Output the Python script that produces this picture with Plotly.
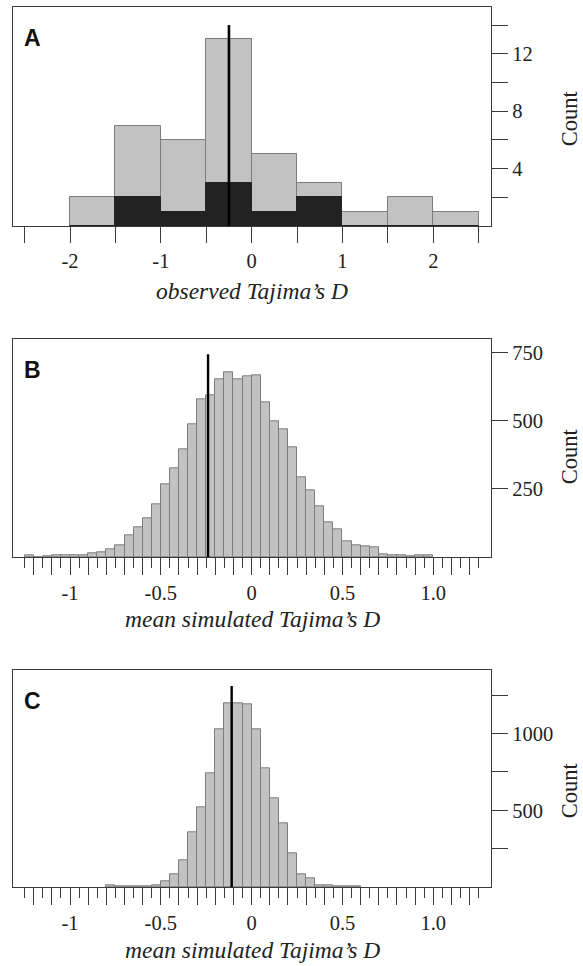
import numpy as np
import plotly.graph_objects as go

# ---------------- data ----------------
# Panel A: observed Tajima's D histogram (bin width 0.5)
A_bin_left = [-2.0, -1.5, -1.0, -0.5, 0.0, 0.5, 1.0, 1.5, 2.0]
A_total = [2, 7, 6, 13, 5, 3, 1, 2, 1]
A_dark = [0, 2, 1, 3, 1, 2, 0, 0, 0]
A_mean = -0.25
A_mean_top = 14
A_width = 0.5

# Panel B: mean simulated Tajima's D (bin width 0.05)
B_bin_left = [-1.25, -1.20, -1.15, -1.10, -1.05, -1.00, -0.95, -0.90, -0.85, -0.80,
              -0.75, -0.70, -0.65, -0.60, -0.55, -0.50, -0.45, -0.40, -0.35, -0.30,
              -0.25, -0.20, -0.15, -0.10, -0.05, 0.00, 0.05, 0.10, 0.15, 0.20,
              0.25, 0.30, 0.35, 0.40, 0.45, 0.50, 0.55, 0.60, 0.65, 0.70,
              0.75, 0.80, 0.85, 0.90, 0.95]
B_counts = [6, 0, 4, 5, 5, 6, 8, 12, 17, 27,
            43, 78, 110, 143, 192, 269, 327, 395, 486, 579,
            596, 653, 679, 653, 664, 667, 570, 497, 470, 403,
            293, 244, 187, 126, 100, 59, 43, 40, 34, 10,
            7, 6, 4, 5, 7]
B_mean = -0.24
B_mean_top = 745
B_width = 0.05

# Panel C: mean simulated Tajima's D (bin width 0.05)
C_bin_left = [-0.80, -0.75, -0.70, -0.65, -0.60, -0.55, -0.50, -0.45, -0.40, -0.35,
              -0.30, -0.25, -0.20, -0.15, -0.10, -0.05, 0.00, 0.05, 0.10, 0.15,
              0.20, 0.25, 0.30, 0.35, 0.40, 0.45, 0.50, 0.55]
C_counts = [8, 3, 7, 6, 6, 13, 39, 85, 174, 354,
            517, 743, 1026, 1199, 1195, 1191, 1026, 771, 580, 413,
            219, 85, 54, 13, 9, 7, 5, 5]
C_mean = -0.11
C_mean_top = 1310
C_width = 0.05

# axis ticks
A_xtick_vals = [-2, -1, 0, 1, 2]
A_xtick_text = ["-2", "-1", "0", "1", "2"]
A_xminor = [-2.5, -1.5, -0.5, 0.5, 1.5, 2.5]
A_ytick_vals = [4, 8, 12]
A_ytick_text = ["4", "8", "12"]
A_yminor = [2, 6, 10, 14]

BC_xtick_labels = {-1.0: "-1", -0.5: "-0.5", 0.0: "0", 0.5: "0.5", 1.0: "1.0"}
BC_xmajor = [round(v, 2) for v in np.arange(-1.2, 1.21, 0.1)]
BC_xminor = [round(v, 2) for v in np.arange(-1.25, 1.26, 0.1)]

B_ytick_vals = [250, 500, 750]
B_ytick_text = ["250", "500", "750"]
C_ytick_vals = [500, 1000]
C_ytick_text = ["500", "1000"]
C_yminor = [250, 750, 1250]

x_titles = ["observed Tajima\u2019s D", "mean simulated Tajima\u2019s D", "mean simulated Tajima\u2019s D"]
panel_letters = ["A", "B", "C"]

# ---------------- layout geometry (pixels) ----------------
W, H = 583, 966
L_PX, R_PX = 13, 490.7
T_PX, B_PX = 6.7, 886.7
PH = B_PX - T_PX
PW = R_PX - L_PX


def px2x(px):
    return (px - L_PX) / PW


def px2y(py):
    return (B_PX - py) / PH


panels_px = [(6.7, 225.7), (339.0, 556.7), (670.0, 886.7)]
y_domains = [[px2y(b), px2y(t)] for (t, b) in panels_px]
x_ranges = [[-2.628, 2.636], [-1.314, 1.318], [-1.314, 1.318]]
y_ranges = [[0, 15.26], [0, 800], [0, 1413]]

GRAY = "#c2c2c2"
EDGE = "#7d7d7d"
AXC = "#3a3a3a"
SERIF = "Liberation Serif"

fig = go.Figure()


def centers(lefts, w):
    return [l + w / 2 for l in lefts]


# Panel A bars
fig.add_trace(go.Bar(x=centers(A_bin_left, A_width), y=A_total, width=A_width,
                     marker=dict(color=GRAY, line=dict(color=EDGE, width=1)),
                     xaxis="x", yaxis="y", showlegend=False))
fig.add_trace(go.Bar(x=centers(A_bin_left, A_width), y=A_dark, width=A_width,
                     marker=dict(color="#222222", line=dict(color="#222222", width=1)),
                     xaxis="x", yaxis="y", showlegend=False))
fig.add_trace(go.Scatter(x=[A_mean, A_mean], y=[0, A_mean_top], mode="lines",
                         line=dict(color="black", width=2.6), xaxis="x", yaxis="y",
                         showlegend=False))

# Panel B
fig.add_trace(go.Bar(x=centers(B_bin_left, B_width), y=B_counts, width=B_width,
                     marker=dict(color=GRAY, line=dict(color=EDGE, width=1)),
                     xaxis="x2", yaxis="y2", showlegend=False))
fig.add_trace(go.Scatter(x=[B_mean, B_mean], y=[0, B_mean_top], mode="lines",
                         line=dict(color="black", width=2.4), xaxis="x2", yaxis="y2",
                         showlegend=False))

# Panel C
fig.add_trace(go.Bar(x=centers(C_bin_left, C_width), y=C_counts, width=C_width,
                     marker=dict(color=GRAY, line=dict(color=EDGE, width=1)),
                     xaxis="x3", yaxis="y3", showlegend=False))
fig.add_trace(go.Scatter(x=[C_mean, C_mean], y=[0, C_mean_top], mode="lines",
                         line=dict(color="black", width=2.4), xaxis="x3", yaxis="y3",
                         showlegend=False))

tickfont = dict(family=SERIF, size=20.5, color="#222")

common_x = dict(showline=True, linecolor=AXC, linewidth=1.3, mirror=True,
                ticks="outside", tickcolor=AXC, tickwidth=1.3, showgrid=False,
                zeroline=False, tickfont=tickfont, tickmode="array", domain=[0, 1])
common_y = dict(showline=True, linecolor=AXC, linewidth=1.3, mirror=True,
                side="right", ticks="outside", tickcolor=AXC, tickwidth=1.3,
                ticklen=16, showgrid=False, zeroline=False, tickfont=tickfont,
                tickmode="array")

BC_text = [BC_xtick_labels.get(round(v, 2), "") for v in BC_xmajor]

layout = dict(
    width=W, height=H,
    margin=dict(l=L_PX, r=W - R_PX, t=T_PX, b=H - B_PX, pad=0),
    paper_bgcolor="white", plot_bgcolor="white",
    barmode="overlay", bargap=0,
    xaxis=dict(common_x, anchor="y", range=x_ranges[0], tickvals=A_xtick_vals,
               ticktext=A_xtick_text, ticklen=16,
               minor=dict(tickmode="array", tickvals=A_xminor, ticklen=16,
                          ticks="outside", tickcolor=AXC, tickwidth=1.3)),
    yaxis=dict(common_y, anchor="x", domain=y_domains[0], range=y_ranges[0],
               tickvals=A_ytick_vals, ticktext=A_ytick_text,
               minor=dict(tickmode="array", tickvals=A_yminor, ticklen=16,
                          ticks="outside", tickcolor=AXC, tickwidth=1.3)),
    xaxis2=dict(common_x, anchor="y2", range=x_ranges[1], tickvals=BC_xmajor,
                ticktext=BC_text, ticklen=17,
                minor=dict(tickmode="array", tickvals=BC_xminor, ticklen=10,
                           ticks="outside", tickcolor=AXC, tickwidth=1.3)),
    yaxis2=dict(common_y, anchor="x2", domain=y_domains[1], range=y_ranges[1],
                tickvals=B_ytick_vals, ticktext=B_ytick_text),
    xaxis3=dict(common_x, anchor="y3", range=x_ranges[2], tickvals=BC_xmajor,
                ticktext=BC_text, ticklen=17,
                minor=dict(tickmode="array", tickvals=BC_xminor, ticklen=10,
                           ticks="outside", tickcolor=AXC, tickwidth=1.3)),
    yaxis3=dict(common_y, anchor="x3", domain=y_domains[2], range=y_ranges[2],
                tickvals=C_ytick_vals, ticktext=C_ytick_text,
                minor=dict(tickmode="array", tickvals=C_yminor, ticklen=16,
                           ticks="outside", tickcolor=AXC, tickwidth=1.3)),
)
fig.update_layout(**layout)

annotations = []
title_y_px = [290.3, 619.0, 950.0]
count_y_px = [118.0, 456.0, 790.0]
for i, (t, b) in enumerate(panels_px):
    annotations.append(dict(text="<b>%s</b>" % panel_letters[i], x=px2x(32.5), y=px2y(t + 30.5),
                            xref="paper", yref="paper", showarrow=False,
                            xanchor="center", yanchor="middle",
                            font=dict(family="Liberation Sans", size=23, color="#111")))
    annotations.append(dict(text="<i>%s</i>" % x_titles[i], x=0.5, y=px2y(title_y_px[i]),
                            xref="paper", yref="paper", showarrow=False,
                            xanchor="center", yanchor="middle",
                            font=dict(family=SERIF, size=23.5, color="#222")))
    annotations.append(dict(text="Count", x=px2x(568.5), y=px2y(count_y_px[i]),
                            xref="paper", yref="paper", showarrow=False, textangle=-90,
                            xanchor="center", yanchor="middle",
                            font=dict(family=SERIF, size=22.5, color="#222")))
fig.update_layout(annotations=annotations)

fig.write_html("out.html",
               config={"displayModeBar": False},
               post_script="document.body.style.margin='0';document.body.style.overflow='hidden';")
